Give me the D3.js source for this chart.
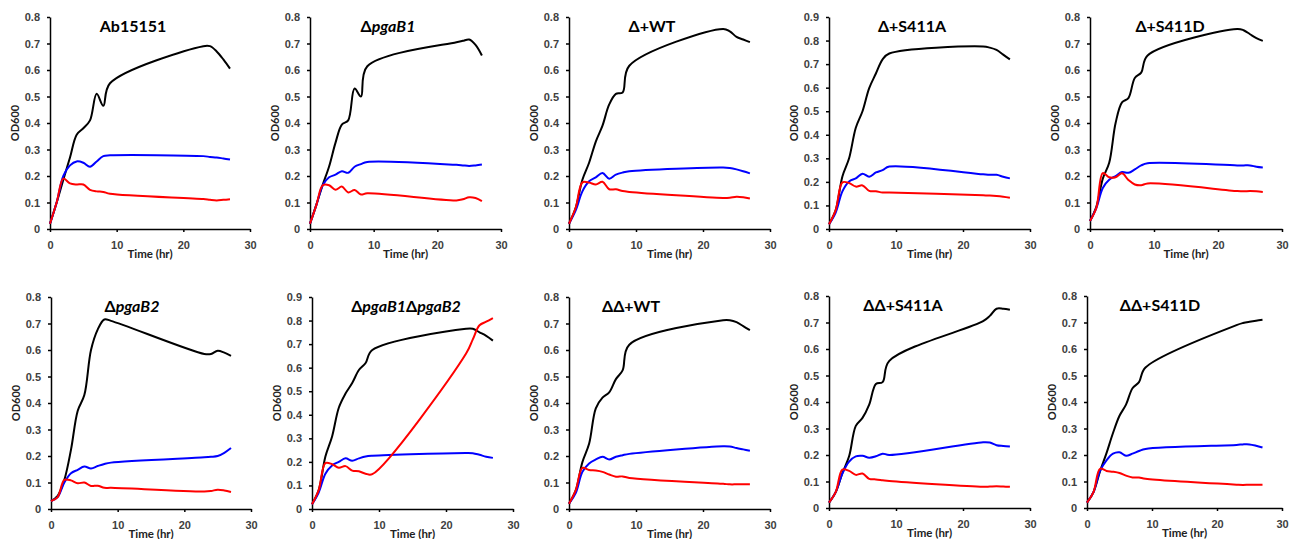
<!DOCTYPE html>
<html>
<head>
<meta charset="utf-8">
<script src="https://cdn.jsdelivr.net/npm/d3@7"></script>
<style>
  body { margin: 0; background: #fff; }
  svg { display: block; font-family: Lato, "Open Sans", sans-serif; }
  .tick text { font-size: 11px; font-weight: bold; fill: #404040; }
  .axis path, .axis line { stroke: #000; stroke-width: 1.5px; }
  .lab { font-size: 11.5px; font-weight: bold; fill: #222; }
  .ttl { font-size: 16px; font-weight: bold; fill: #000; }
</style>
</head>
<body>
<svg width="1293" height="539"></svg>
<script>
// sampling times (hr)
var hours = [0, 1, 2, 3, 4, 5, 6, 7, 8, 9, 23, 24, 25, 26, 27];

var titles = ["Ab15151", "\u0394pgaB1", "\u0394+WT", "\u0394+S411A", "\u0394+S411D",
              "\u0394pgaB2", "\u0394pgaB1\u0394pgaB2", "\u0394\u0394+WT", "\u0394\u0394+S411A", "\u0394\u0394+S411D"];

var yMax = [0.8, 0.8, 0.8, 0.9, 0.8, 0.8, 0.9, 0.8, 0.8, 0.8];
var xTicks = [0, 10, 20, 30];

var seriesBlack = [
  [0.02, 0.10, 0.186, 0.27, 0.356, 0.38, 0.41, 0.51, 0.465, 0.55, 0.69, 0.69, 0.67, 0.64, 0.605],
  [0.02, 0.092, 0.167, 0.236, 0.325, 0.394, 0.41, 0.53, 0.50, 0.614, 0.705, 0.71, 0.715, 0.695, 0.655],
  [0.02, 0.08, 0.186, 0.25, 0.33, 0.39, 0.47, 0.51, 0.515, 0.616, 0.755, 0.746, 0.725, 0.715, 0.705],
  [0.02, 0.08, 0.223, 0.30, 0.43, 0.50, 0.598, 0.66, 0.72, 0.745, 0.775, 0.77, 0.76, 0.74, 0.72],
  [0.03, 0.085, 0.19, 0.25, 0.40, 0.478, 0.494, 0.57, 0.59, 0.655, 0.755, 0.75, 0.735, 0.72, 0.71],
  [0.03, 0.05, 0.11, 0.224, 0.37, 0.43, 0.60, 0.677, 0.715, 0.71, 0.585, 0.585, 0.597, 0.59, 0.578],
  [0.02, 0.08, 0.223, 0.308, 0.43, 0.49, 0.535, 0.59, 0.62, 0.675, 0.765, 0.765, 0.75, 0.735, 0.715],
  [0.02, 0.07, 0.177, 0.246, 0.38, 0.42, 0.44, 0.49, 0.523, 0.62, 0.712, 0.712, 0.705, 0.69, 0.675],
  [0.02, 0.06, 0.132, 0.195, 0.31, 0.34, 0.39, 0.468, 0.475, 0.555, 0.705, 0.725, 0.752, 0.752, 0.748],
  [0.02, 0.06, 0.138, 0.207, 0.283, 0.348, 0.39, 0.452, 0.475, 0.53, 0.69, 0.698, 0.703, 0.707, 0.71]
];

var seriesBlue = [
  [0.02, 0.10, 0.20, 0.24, 0.255, 0.25, 0.235, 0.255, 0.275, 0.278, 0.275, 0.272, 0.27, 0.266, 0.262],
  [0.02, 0.09, 0.165, 0.195, 0.205, 0.218, 0.212, 0.235, 0.245, 0.253, 0.242, 0.24, 0.238, 0.24, 0.243],
  [0.02, 0.07, 0.142, 0.18, 0.195, 0.211, 0.19, 0.205, 0.213, 0.218, 0.232, 0.23, 0.225, 0.218, 0.21],
  [0.02, 0.07, 0.16, 0.202, 0.215, 0.235, 0.222, 0.24, 0.25, 0.265, 0.232, 0.23, 0.23, 0.222, 0.215],
  [0.03, 0.08, 0.155, 0.186, 0.20, 0.215, 0.212, 0.225, 0.24, 0.248, 0.24, 0.24, 0.24, 0.235, 0.232],
  [0.03, 0.045, 0.10, 0.135, 0.148, 0.16, 0.153, 0.162, 0.17, 0.175, 0.195, 0.197, 0.20, 0.212, 0.23],
  [0.02, 0.07, 0.15, 0.185, 0.20, 0.215, 0.205, 0.215, 0.223, 0.226, 0.238, 0.237, 0.23, 0.222, 0.217],
  [0.02, 0.06, 0.14, 0.172, 0.187, 0.197, 0.187, 0.197, 0.203, 0.208, 0.237, 0.236, 0.23, 0.225, 0.22],
  [0.02, 0.06, 0.13, 0.175, 0.195, 0.197, 0.19, 0.195, 0.205, 0.20, 0.248, 0.247, 0.237, 0.234, 0.232],
  [0.02, 0.06, 0.14, 0.18, 0.205, 0.21, 0.197, 0.205, 0.215, 0.223, 0.238, 0.24, 0.24, 0.235, 0.228]
];

var seriesRed = [
  [0.02, 0.10, 0.19, 0.172, 0.168, 0.168, 0.148, 0.142, 0.14, 0.133, 0.113, 0.11, 0.108, 0.11, 0.112],
  [0.02, 0.09, 0.165, 0.165, 0.148, 0.16, 0.138, 0.147, 0.13, 0.135, 0.108, 0.112, 0.12, 0.117, 0.105],
  [0.02, 0.08, 0.176, 0.175, 0.168, 0.178, 0.15, 0.15, 0.143, 0.14, 0.117, 0.118, 0.122, 0.12, 0.115],
  [0.02, 0.08, 0.198, 0.195, 0.18, 0.185, 0.162, 0.16, 0.155, 0.155, 0.143, 0.142, 0.14, 0.137, 0.133],
  [0.03, 0.08, 0.211, 0.195, 0.195, 0.21, 0.185, 0.168, 0.165, 0.172, 0.143, 0.142, 0.143, 0.142, 0.14],
  [0.03, 0.045, 0.11, 0.108, 0.097, 0.10, 0.087, 0.088, 0.08, 0.08, 0.066, 0.068, 0.073, 0.07, 0.064],
  [0.02, 0.08, 0.195, 0.19, 0.175, 0.182, 0.163, 0.16, 0.15, 0.148, 0.66, 0.72, 0.78, 0.795, 0.81],
  [0.02, 0.07, 0.155, 0.147, 0.145, 0.14, 0.13, 0.122, 0.123, 0.117, 0.095, 0.093, 0.093, 0.093, 0.093],
  [0.02, 0.06, 0.145, 0.14, 0.125, 0.13, 0.11, 0.108, 0.105, 0.102, 0.08, 0.081, 0.082, 0.081, 0.08],
  [0.02, 0.06, 0.148, 0.14, 0.137, 0.132, 0.122, 0.115, 0.115, 0.11, 0.088, 0.087, 0.088, 0.088, 0.088]
];

// panel placement: x of t=0 / t=30, y of 0 / top tick, title centre
var frames = [
  { x0: 50,   x1: 250,  y0: 229, y1: 17,  tx: 133 },
  { x0: 310,  x1: 501,  y0: 229, y1: 17,  tx: 388 },
  { x0: 569,  x1: 770,  y0: 229, y1: 17,  tx: 652 },
  { x0: 829,  x1: 1030, y0: 229, y1: 17,  tx: 912 },
  { x0: 1090, x1: 1282, y0: 229, y1: 17,  tx: 1170 },
  { x0: 51,   x1: 251,  y0: 509, y1: 297, tx: 132 },
  { x0: 312,  x1: 513,  y0: 509, y1: 297, tx: 406 },
  { x0: 569,  x1: 770,  y0: 509, y1: 297, tx: 631 },
  { x0: 829,  x1: 1030, y0: 508, y1: 296, tx: 903 },
  { x0: 1087, x1: 1282, y0: 508, y1: 296, tx: 1160 }
];

var svg = d3.select("svg");

frames.forEach(function (f, i) {
  var x = d3.scaleLinear().domain([0, 30]).range([f.x0, f.x1]),
      y = d3.scaleLinear().domain([0, yMax[i]]).range([f.y0, f.y1]);

  var g = svg.append("g");

  g.append("g")
    .attr("class", "axis")
    .attr("transform", "translate(0," + f.y0 + ")")
    .call(d3.axisBottom(x).tickValues(xTicks).tickSize(3).tickSizeOuter(0).tickPadding(9));

  g.append("g")
    .attr("class", "axis")
    .attr("transform", "translate(" + f.x0 + ",0)")
    .call(d3.axisLeft(y)
      .tickValues(d3.range(0, yMax[i] + 0.001, 0.1))
      .tickFormat(function (d) { return d < 0.001 ? "0" : d3.format(".1f")(d); })
      .tickSize(3).tickSizeOuter(0).tickPadding(7));

  g.append("text")
    .attr("class", "lab")
    .attr("x", (f.x0 + f.x1) / 2)
    .attr("y", f.y0 + 29)
    .attr("text-anchor", "middle")
    .text("Time (hr)");

  g.append("text")
    .attr("class", "lab")
    .attr("transform", "translate(" + (f.x0 - 31) + "," + (f.y0 + f.y1) / 2 + ") rotate(-90)")
    .attr("text-anchor", "middle")
    .style("font-size", "11px")
    .text("OD600");

  // title, gene names in italics
  var t = g.append("text")
    .attr("class", "ttl")
    .attr("x", f.tx)
    .attr("y", f.y1 + 15)
    .attr("text-anchor", "middle");
  titles[i].split(/(pgaB\d)/).filter(function (s) { return s; }).forEach(function (s) {
    t.append("tspan")
      .style("font-style", /^pgaB/.test(s) ? "italic" : null)
      .text(s);
  });

  var line = d3.line()
    .x(function (d, k) { return x(hours[k]); })
    .y(function (d) { return y(d); })
    .curve(d3.curveCatmullRom.alpha(0.5));

  [[seriesBlack[i], "#000"], [seriesBlue[i], "#0000ff"], [seriesRed[i], "#ff0000"]].forEach(function (s) {
    g.append("path")
      .datum(s[0])
      .attr("fill", "none")
      .attr("stroke", s[1])
      .attr("stroke-width", 2)
      .attr("d", line);
  });
});
</script>
</body>
</html>
